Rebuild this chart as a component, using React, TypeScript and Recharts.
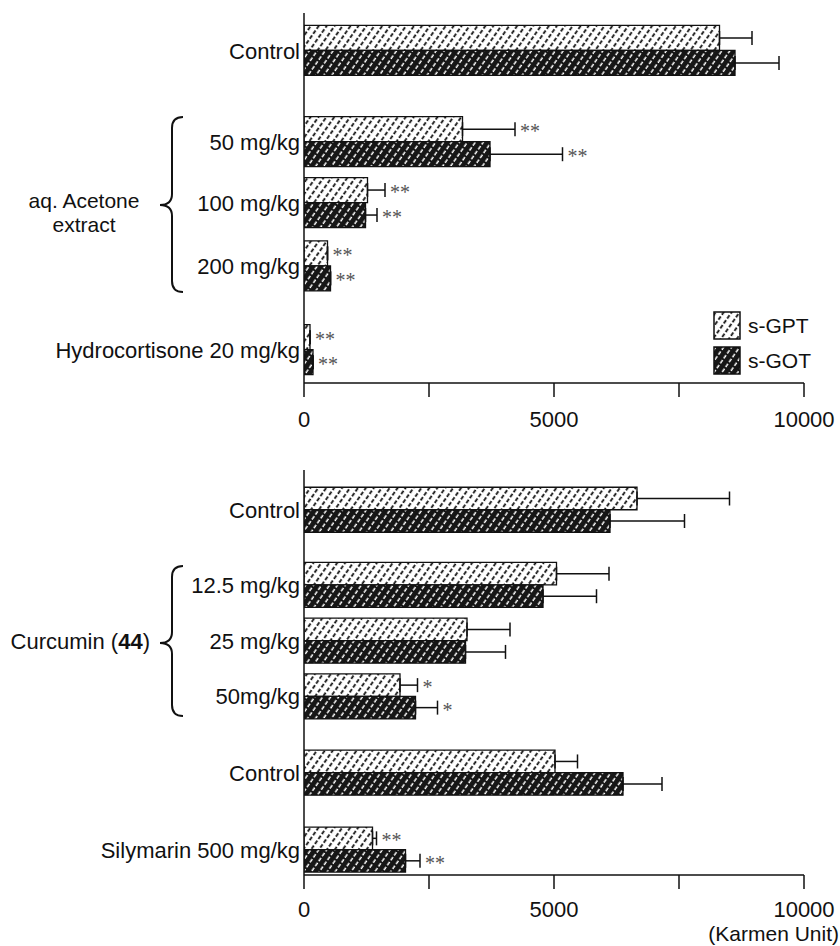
import React from "react";
import { BarChart, Bar, XAxis, YAxis, ErrorBar, LabelList, Legend, Label } from "recharts";

const FONT = "'Liberation Sans', Arial, Helvetica, sans-serif";
const SERIF = "'Liberation Serif', 'Times New Roman', serif";

// --- upper panel: aq. acetone extract ---
const topRows = ["Control", "50 mg/kg", "100 mg/kg", "200 mg/kg", "Hydrocortisone 20 mg/kg"];
const topRowPos = [0, 1.47, 2.45, 3.47, 4.82];
const topGpt = [8310, 3170, 1270, 470, 120];
const topGptErr = [650, 1050, 350, 0, 0];
const topGot = [8620, 3720, 1230, 530, 180];
const topGotErr = [880, 1450, 230, 0, 0];
const topGptSig = ["", "**", "**", "**", "**"];
const topGotSig = ["", "**", "**", "**", "**"];

// --- lower panel: curcumin / silymarin ---
const botRows = ["Control", "12.5 mg/kg", "25 mg/kg", "50mg/kg", "Control", "Silymarin 500 mg/kg"];
const botRowPos = [0, 1.35, 2.35, 3.35, 4.72, 6.1];
const botGpt = [6660, 5050, 3260, 1920, 5020, 1370];
const botGptErr = [1850, 1050, 860, 350, 450, 80];
const botGot = [6120, 4780, 3230, 2230, 6380, 2030];
const botGotErr = [1490, 1070, 800, 440, 780, 290];
const botGptSig = ["", "", "", "*", "", "**"];
const botGotSig = ["", "", "", "*", "", "**"];

const xTicks = [0, 2500, 5000, 7500, 10000];
const xTickLabels = ["0", "", "5000", "", "10000"];
const seriesNames = ["s-GPT", "s-GOT"];

function buildRows(rows: string[], pos: number[], gpt: number[], gptErr: number[], got: number[], gotErr: number[], gptSig: string[], gotSig: string[]) {
  return rows.map((name, i) => ({
    name,
    pos: pos[i],
    gpt: gpt[i],
    gptErr: [0, gptErr[i]],
    got: got[i],
    gotErr: [0, gotErr[i]],
    gptSig: gptSig[i],
    gotSig: gotSig[i],
  }));
}

const topData = buildRows(topRows, topRowPos, topGpt, topGptErr, topGot, topGotErr, topGptSig, topGotSig);
const botData = buildRows(botRows, botRowPos, botGpt, botGptErr, botGot, botGotErr, botGptSig, botGotSig);

function Hatch({ id, dark }: { id: string; dark: boolean }) {
  return (
    <pattern id={id} patternUnits="userSpaceOnUse" width={6.5} height={6} patternTransform="rotate(35)">
      <rect width={6.5} height={6} fill={dark ? "#161616" : "#fff"} />
      <line x1={3} y1={0} x2={3} y2={6} stroke={dark ? "#fff" : "#111"} strokeWidth={dark ? 1.5 : 1.8} strokeDasharray="4 2" />
    </pattern>
  );
}

const fills = ["url(#hatchLight)", "url(#hatchDark)"];

// asterisks sit just past the error bar cap
const starLabel = (vals: number[], errs: number[]) => (p: any) => {
  if (!p.value) return null;
  const vb = p.viewBox || p;
  const x = Number(vb.x), y = Number(vb.y), w = Number(vb.width), h = Number(vb.height);
  const i = p.index;
  const end = x + (w * (vals[i] + errs[i])) / vals[i];
  return (
    <text x={end + 5} y={y + h / 2 + 9} fontFamily={SERIF} fontSize={20} fill="#555">
      {p.value}
    </text>
  );
};

function bracePath(xEnd: number, xMid: number, xTip: number, top: number, tip: number, bottom: number, r: number) {
  return `M${xEnd},${top} Q${xMid},${top} ${xMid},${top + r} L${xMid},${tip - r} Q${xMid},${tip} ${xTip},${tip} ` +
    `Q${xMid},${tip} ${xMid},${tip + r} L${xMid},${bottom - r} Q${xMid},${bottom} ${xEnd},${bottom}`;
}

type Group = { mid: number; up: number; down: number; label: (x: number, y: number) => React.ReactNode };

const makeRowTick = (rows: string[], group: Group) => (p: any) => {
  const { x, y } = p;
  const index = p.index ?? p.payload?.index;
  return (
    <g>
      <text x={x} y={y} dy="0.35em" textAnchor="end" fontFamily={FONT} fontSize={22} fill="#111">
        {rows[index]}
      </text>
      {index === group.mid && (
        <g>
          <path d={bracePath(x - 117, x - 128, x - 140, y - group.up, y + 2, y + group.down, 11)} fill="none" stroke="#111" strokeWidth={2} />
          {group.label(x, y)}
        </g>
      )}
    </g>
  );
};

const topGroup: Group = {
  mid: 2, up: 86, down: 89,
  label: (x, y) => (
    <g fontFamily={FONT} fontSize={21} fill="#111">
      <text x={x - 216} y={y - 2} dy="0.35em" textAnchor="middle">aq. Acetone</text>
      <text x={x - 216} y={y + 22} dy="0.35em" textAnchor="middle">extract</text>
    </g>
  ),
};
const botGroup: Group = {
  mid: 2, up: 75, down: 75,
  label: (x, y) => (
    <text x={x - 150} y={y} dy="0.35em" fontFamily={FONT} fontSize={22} fill="#111" textAnchor="end">
      Curcumin (<tspan fontWeight="bold">44</tspan>)
    </text>
  ),
};

function LegendBox(p: any) {
  return (
    <div style={{ fontFamily: FONT, fontSize: 21, color: "#111" }}>
      {seriesNames.map((n, i) => (
        <div key={n} style={{ display: "flex", alignItems: "center", height: 35 }}>
          <svg width={28} height={29} style={{ marginRight: 7 }}>
            <rect x={1} y={1} width={26} height={27} fill={fills[i]} stroke="#111" strokeWidth={1.5} />
          </svg>
          <span>{n}</span>
        </div>
      ))}
    </div>
  );
}

const axisStroke = { stroke: "#111", strokeWidth: 1.5 };

function Panel({ data, rows, pos, domain, height, marginTop, axisHeight, tickMargin, barSize, group, vals, legend, karmen }: any) {
  return (
    <BarChart
      layout="vertical"
      width={840}
      height={height}
      data={data}
      margin={{ top: marginTop, right: 36, bottom: 0, left: 0 }}
      barGap={0}
      barCategoryGap={0}
    >
      <XAxis
        type="number"
        domain={[0, 10000]}
        ticks={xTicks}
        interval={0}
        allowDataOverflow
        tickFormatter={(v: number) => xTickLabels[xTicks.indexOf(v)]}
        tickSize={14}
        tickMargin={tickMargin}
        axisLine={axisStroke}
        tickLine={axisStroke}
        tick={{ fontSize: 22, fill: "#111", fontFamily: FONT }}
        height={axisHeight}
      >
        {karmen && (
          <Label
            content={(lp: any) => {
              const vb = lp.viewBox;
              return (
                <text x={vb.x + vb.width + 35} y={vb.y + 66} textAnchor="end" fontFamily={FONT} fontSize={21} fill="#111">
                  (Karmen Unit)
                </text>
              );
            }}
          />
        )}
      </XAxis>
      <YAxis
        type="number"
        dataKey="pos"
        domain={domain}
        allowDataOverflow
        ticks={pos}
        interval={0}
        width={304}
        tickSize={0}
        tickMargin={4}
        tickLine={false}
        axisLine={axisStroke}
        tick={makeRowTick(rows, group)}
      />
      {legend && (
        <Legend
          layout="vertical"
          align="center"
          verticalAlign="middle"
          wrapperStyle={{ left: 713, top: 308, width: 125 }}
          content={<LegendBox />}
        />
      )}
      <Bar dataKey="gpt" name={seriesNames[0]} fill={fills[0]} stroke="#111" strokeWidth={1.3} barSize={barSize} isAnimationActive={false}>
        <ErrorBar dataKey="gptErr" direction="x" width={7} stroke="#111" strokeWidth={1.5} />
        <LabelList dataKey="gptSig" content={starLabel(vals[0], vals[1])} />
      </Bar>
      <Bar dataKey="got" name={seriesNames[1]} fill={fills[1]} stroke="#111" strokeWidth={1.3} barSize={barSize} isAnimationActive={false}>
        <ErrorBar dataKey="gotErr" direction="x" width={7} stroke="#111" strokeWidth={1.5} />
        <LabelList dataKey="gotSig" content={starLabel(vals[2], vals[3])} />
      </Bar>
    </BarChart>
  );
}

export default function App() {
  return (
    <div style={{ position: "absolute", left: 0, top: 0, width: 840, height: 946, background: "#fff", fontFamily: FONT }}>
      <svg width={0} height={0} style={{ position: "absolute" }}>
        <defs>
          <Hatch id="hatchLight" dark={false} />
          <Hatch id="hatchDark" dark={true} />
        </defs>
      </svg>
      <Panel
        data={topData}
        rows={topRows}
        pos={topRowPos}
        domain={[-0.61, 5.35]}
        height={450}
        marginTop={13}
        axisHeight={67}
        tickMargin={14}
        barSize={25}
        group={topGroup}
        vals={[topGpt, topGptErr, topGot, topGotErr]}
        legend
      />
      <Panel
        data={botData}
        rows={botRows}
        pos={botRowPos}
        domain={[-0.72, 6.55]}
        height={496}
        marginTop={20}
        axisHeight={71}
        tickMargin={12}
        barSize={22.5}
        group={botGroup}
        vals={[botGpt, botGptErr, botGot, botGotErr]}
        karmen
      />
    </div>
  );
}
